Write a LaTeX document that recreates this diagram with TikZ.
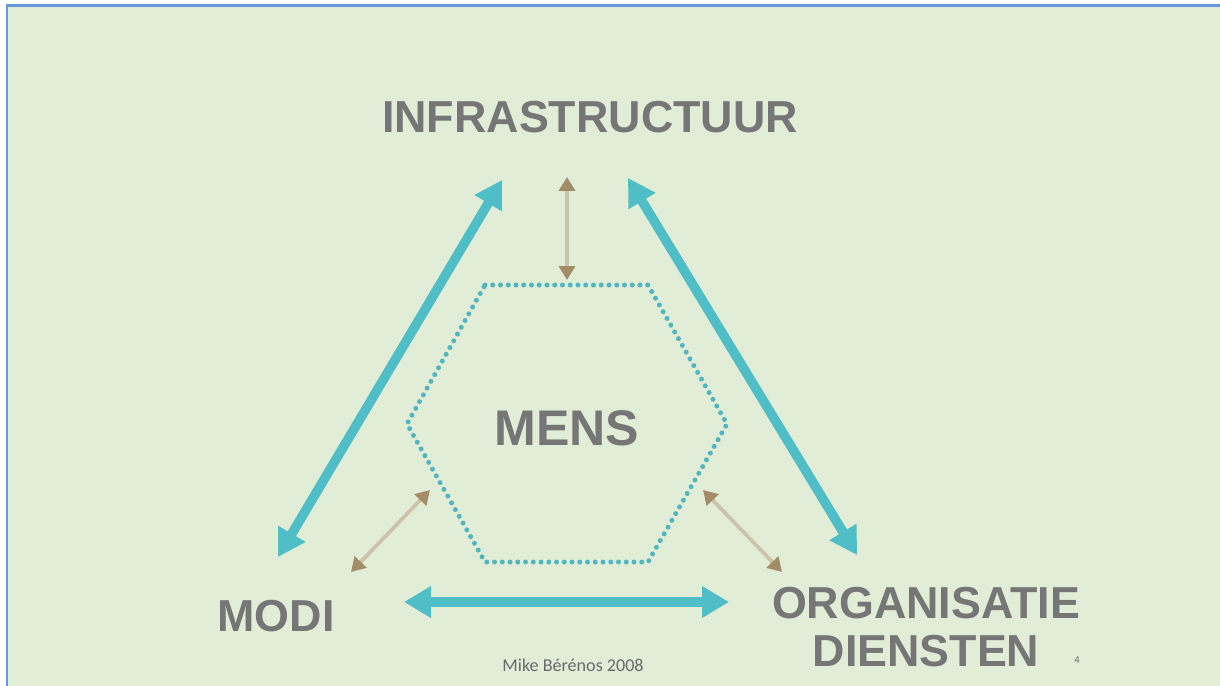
\documentclass[tikz,border=0pt]{standalone}
\usepackage{fontspec}
\setmainfont{Liberation Sans}
\newfontfamily\calfont{Carlito}
\usetikzlibrary{arrows.meta}
\definecolor{bggreen}{RGB}{226,237,216}
\definecolor{frameblue}{RGB}{98,155,215}
\definecolor{linkteal}{RGB}{80,190,199}
\definecolor{dotteal}{RGB}{82,182,192}
\definecolor{wordgray}{RGB}{118,118,118}
\definecolor{shaftbrown}{RGB}{205,195,170}
\definecolor{headbrown}{RGB}{163,141,104}
\begin{document}
\begin{tikzpicture}[
  x=0.02cm, y=-0.02cm,
  word/.style={font=\bfseries\fontsize{25.5}{27.5}\selectfont, text=wordgray, inner sep=0pt, align=center},
  bigword/.style={word, font=\bfseries\fontsize{28.5}{30}\selectfont},
  link/.style={linkteal, line width=0.19cm, {Triangle[length=0.54cm,width=0.6cm]}-{Triangle[length=0.54cm,width=0.6cm]}},
  tie/.style={shaftbrown, line width=0.075cm, {Triangle[length=0.28cm,width=0.32cm,color=headbrown]}-{Triangle[length=0.28cm,width=0.32cm,color=headbrown]}},
  dots/.style={dotteal, line width=0.1cm, line cap=round, dash pattern=on 0pt off 0.155cm},
  small/.style={text=wordgray!90!black, inner sep=0pt},
]
%page and frame
\useasboundingbox (0,0) rectangle (1220,686);
\fill[bggreen] (7,6) rectangle (1220,686);
\draw[frameblue, line width=0.06cm] (7,686) -- (7,6) -- (1220,6);

%words
\node[word]    (infra) at (590,117) {INFRASTRUCTUUR};
\node[word]    (modi)  at (276,616) {MODI};
\node[word]    (org)   at (926,627) {ORGANISATIE\\DIENSTEN};
\node[bigword] (mens)  at (567,428) {MENS};

%hexagon round MENS
\draw[dots] (485,285) -- (648,285) -- (727,424) -- (648,562) -- (485,562) -- (407,424) -- cycle;

%ends of the arrows
\coordinate (infraL) at (502,180);
\coordinate (infraR) at (628,178);
\coordinate (infraM) at (567,177);
\coordinate (modiT)  at (278,557);
\coordinate (modiR)  at (404,602);
\coordinate (modiH)  at (351,572);
\coordinate (orgT)   at (857,555);
\coordinate (orgL)   at (729,602);
\coordinate (orgH)   at (782,572);
\coordinate (hexT)   at (567,280);
\coordinate (hexL)   at (430,490);
\coordinate (hexR)   at (703,490);

%big links
\draw[link] (infraL) -- (modiT);
\draw[link] (infraR) -- (orgT);
\draw[link] (modiR) -- (orgL);

%links to MENS
\draw[tie] (infraM) -- (hexT);
\draw[tie] (modiH) -- (hexL);
\draw[tie] (orgH) -- (hexR);

%footer
\node[small, font=\calfont\fontsize{10.3}{12}\selectfont] (credit) at (573,665) {Mike Bérénos 2008};
\node[small, font=\calfont\fontsize{6}{7}\selectfont] (pagenr) at (1077,660) {4};
\end{tikzpicture}
\end{document}
